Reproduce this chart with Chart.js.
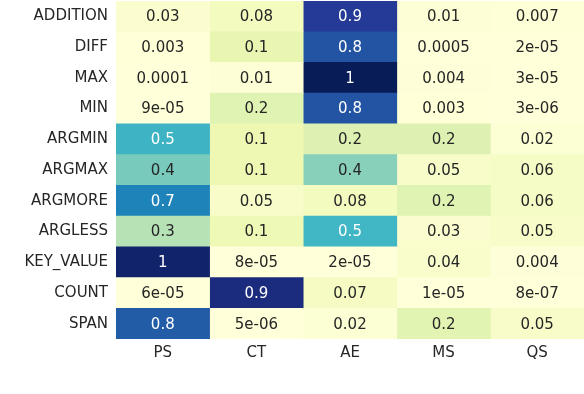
<!DOCTYPE html>
<html>
<head>
<meta charset="utf-8">
<script src="https://cdn.jsdelivr.net/npm/chart.js@4/dist/chart.umd.min.js"></script>
<style>
  body { margin: 0; background: #fff; }
  canvas { display: block; }
</style>
</head>
<body>
<canvas id="heat" width="584" height="394"></canvas>
<script>
// row and column names
const rowLabels = ["ADDITION", "DIFF", "MAX", "MIN", "ARGMIN", "ARGMAX", "ARGMORE", "ARGLESS", "KEY_VALUE", "COUNT", "SPAN"];
const colLabels = ["PS", "CT", "AE", "MS", "QS"];

// one array per column (top row first)
const psValues = [0.03, 0.003, 0.0001, 9e-05, 0.51, 0.39, 0.66, 0.28, 0.96, 6e-05, 0.76];
const ctValues = [0.08, 0.14, 0.01, 0.17, 0.12, 0.12, 0.05, 0.11, 8e-05, 0.92, 5e-06];
const aeValues = [0.86, 0.78, 1, 0.78, 0.18, 0.36, 0.08, 0.5, 2e-05, 0.07, 0.02];
const msValues = [0.01, 0.0005, 0.004, 0.003, 0.18, 0.05, 0.17, 0.03, 0.04, 1e-05, 0.16];
const qsValues = [0.007, 2e-05, 3e-05, 3e-06, 0.02, 0.06, 0.06, 0.05, 0.004, 8e-07, 0.05];

const columns = [psValues, ctValues, aeValues, msValues, qsValues];

// YlGnBu
const cmap = [
  [255, 255, 217], [237, 248, 177], [199, 233, 180], [127, 205, 187], [65, 182, 196],
  [29, 145, 192], [34, 94, 168], [37, 52, 148], [8, 29, 88]
];

function colorFor(v) {
  var t = Math.max(0, Math.min(1, v)) * (cmap.length - 1);
  var i = Math.min(Math.floor(t), cmap.length - 2);
  var f = t - i;
  var c = cmap[i].map(function (a, k) { return Math.round(a + (cmap[i + 1][k] - a) * f); });
  return c;
}

function lum(c) {
  var l = c.map(function (x) {
    x = x / 255;
    return x <= 0.03928 ? x / 12.92 : Math.pow((x + 0.055) / 1.055, 2.4);
  });
  return 0.2126 * l[0] + 0.7152 * l[1] + 0.0722 * l[2];
}

// like python's ".1g"
function fmt(v) {
  var s = v.toExponential(0);
  var parts = s.split("e");
  var exp = parseInt(parts[1], 10);
  if (exp < -4) {
    var a = Math.abs(exp);
    return parts[0] + "e-" + (a < 10 ? "0" + a : a);
  }
  return String(Number(v.toPrecision(1)));
}

const cellText = {
  id: "cellText",
  afterDatasetsDraw(chart) {
    var ctx = chart.ctx;
    ctx.save();
    ctx.font = "15px 'DejaVu Sans'";
    ctx.textAlign = "center";
    ctx.textBaseline = "middle";
    chart.data.datasets.forEach(function (ds, j) {
      var meta = chart.getDatasetMeta(j);
      meta.data.forEach(function (el, i) {
        var v = columns[j][i];
        var c = colorFor(v);
        ctx.fillStyle = lum(c) > 0.408 ? "#262626" : "#ffffff";
        ctx.fillText(fmt(v), (el.x + el.base) / 2, el.y + 1);
      });
    });
    ctx.restore();
  }
};

var ctx = document.getElementById("heat").getContext("2d");
var chart = new Chart(ctx, {
  type: "bar",
  data: {
    labels: rowLabels,
    datasets: columns.map(function (col, j) {
      return {
        label: colLabels[j],
        data: col.map(function () { return 1; }),
        backgroundColor: col.map(function (v) { return "rgb(" + colorFor(v).join(",") + ")"; }),
        borderWidth: 0,
        barPercentage: 1,
        categoryPercentage: 1
      };
    })
  },
  options: {
    indexAxis: "y",
    responsive: false,
    animation: false,
    layout: { padding: { top: 1, right: 0, left: 0, bottom: 0 } },
    scales: {
      x: {
        type: "linear",
        stacked: true,
        min: 0,
        max: 5,
        grid: { display: false, drawTicks: false },
        border: { display: false },
        afterBuildTicks: function (s) {
          s.ticks = colLabels.map(function (_, i) { return { value: i + 0.5 }; });
        },
        afterFit: function (s) { s.height = 55; s.paddingLeft = 0; s.paddingRight = 0; },
        ticks: {
          autoSkip: false,
          maxRotation: 0,
          padding: 5,
          color: "#262626",
          font: { family: "'DejaVu Sans'", size: 15 },
          callback: function (v) { return colLabels[Math.floor(v)]; }
        }
      },
      y: {
        stacked: true,
        grid: { display: false, drawTicks: false },
        border: { display: false },
        afterFit: function (s) { s.width = 116; s.paddingTop = 0; s.paddingBottom = 0; },
        ticks: {
          padding: 8,
          color: "#262626",
          font: { family: "'DejaVu Sans'", size: 15 }
        }
      }
    },
    plugins: {
      legend: { display: false },
      tooltip: { enabled: false }
    }
  },
  plugins: [cellText]
});
</script>
</body>
</html>
